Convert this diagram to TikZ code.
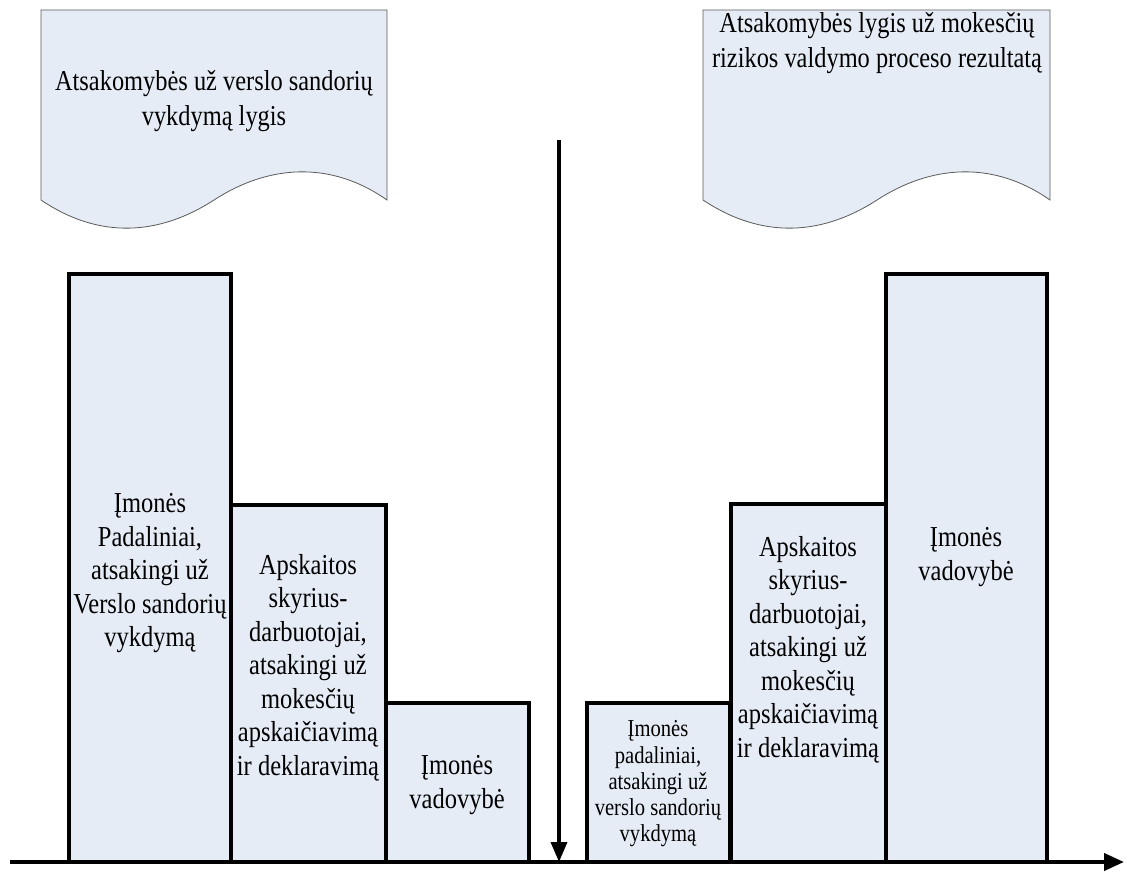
\documentclass[tikz,border=0pt]{standalone}
\usepackage{fontspec}
\usepackage{graphicx}
\setmainfont{Liberation Serif}
\usetikzlibrary{arrows.meta}
\definecolor{boxfill}{RGB}{230,236,246}
\definecolor{docline}{RGB}{90,90,90}
% tall serif lettering: lines stacked in a tabular, stretched vertically
\newcommand\tallstack[1]{\scalebox{1}[1.18]{\begin{tabular}{@{}c@{}}#1\end{tabular}}}
\tikzset{
  bar/.style={draw=black, fill=boxfill, line width=3.5pt, rectangle, inner sep=0pt, outer sep=0pt, anchor=south west},
  doc/.style={draw=docline, fill=boxfill, line width=0.8pt},
  lbl/.style={inner sep=0pt, font=\fontsize{24.5}{28.4}\selectfont},
  lblsmall/.style={inner sep=0pt, font=\fontsize{20.6}{22.2}\selectfont},
  axis/.style={line width=4pt, -{Triangle[length=20pt,width=17pt]}},
  drop/.style={line width=3.5pt, -{Triangle[length=20pt,width=16pt]}}
}
\begin{document}
\begin{tikzpicture}[x=1pt,y=-1pt]
\useasboundingbox (0,0) rectangle (1131,875);

% document shapes with wavy lower edge
\draw[doc] (41,10) -- (387,10) -- (387,200)
  .. controls (330,160) and (268,165) .. (214,200)
  .. controls (160,235) and (100,240) .. (41,200) -- cycle;
\node[lbl, font=\fontsize{24.4}{29.6}\selectfont] (docL) at (214,101)
  {\tallstack{Atsakomybės už verslo sandorių\\vykdymą lygis}};

\draw[doc] (703,10) -- (1050,10) -- (1050,200)
  .. controls (993,160) and (931,165) .. (877,200)
  .. controls (823,235) and (763,240) .. (703,200) -- cycle;
\node[lbl, font=\fontsize{24.4}{29.6}\selectfont] (docR) at (877,43)
  {\tallstack{Atsakomybės lygis už mokesčių\\rizikos valdymo proceso rezultatą}};

% left group of bars
\node[bar, minimum width=162pt, minimum height=588pt] (b1) at (69,862) {};
\node[bar, minimum width=155pt, minimum height=357pt] (b2) at (231,862) {};
\node[bar, minimum width=143pt, minimum height=159pt] (b3) at (386,862) {};

% right group of bars
\node[bar, minimum width=143pt, minimum height=159pt] (b4) at (587,862) {};
\node[bar, minimum width=155pt, minimum height=358pt] (b5) at (731,862) {};
\node[bar, minimum width=161pt, minimum height=588pt] (b6) at (886,862) {};

% bar labels
\node[lbl] (t1) at (150,573) {\tallstack{Įmonės\\Padaliniai,\\atsakingi už\\Verslo sandorių\\vykdymą}};
\node[lbl] (t2) at (308,668) {\tallstack{Apskaitos\\skyrius-\\darbuotojai,\\atsakingi už\\mokesčių\\apskaičiavimą\\ir deklaravimą}};
\node[lbl] (t3) at (457,785) {\tallstack{Įmonės\\vadovybė}};
\node[lblsmall] (t4) at (658,784) {\tallstack{Įmonės\\padaliniai,\\atsakingi už\\verslo sandorių\\vykdymą}};
\node[lbl] (t5) at (808,650) {\tallstack{Apskaitos\\skyrius-\\darbuotojai,\\atsakingi už\\mokesčių\\apskaičiavimą\\ir deklaravimą}};
\node[lbl] (t6) at (966,557) {\tallstack{Įmonės\\vadovybė}};

% axes
\coordinate (axStart) at (10,862);
\coordinate (axEnd) at (1124,862);
\coordinate (dropTop) at (559,140);
\coordinate (dropEnd) at (559,862);
\draw[axis] (axStart) -- (axEnd);
\draw[drop] (dropTop) -- (dropEnd);
\end{tikzpicture}
\end{document}
